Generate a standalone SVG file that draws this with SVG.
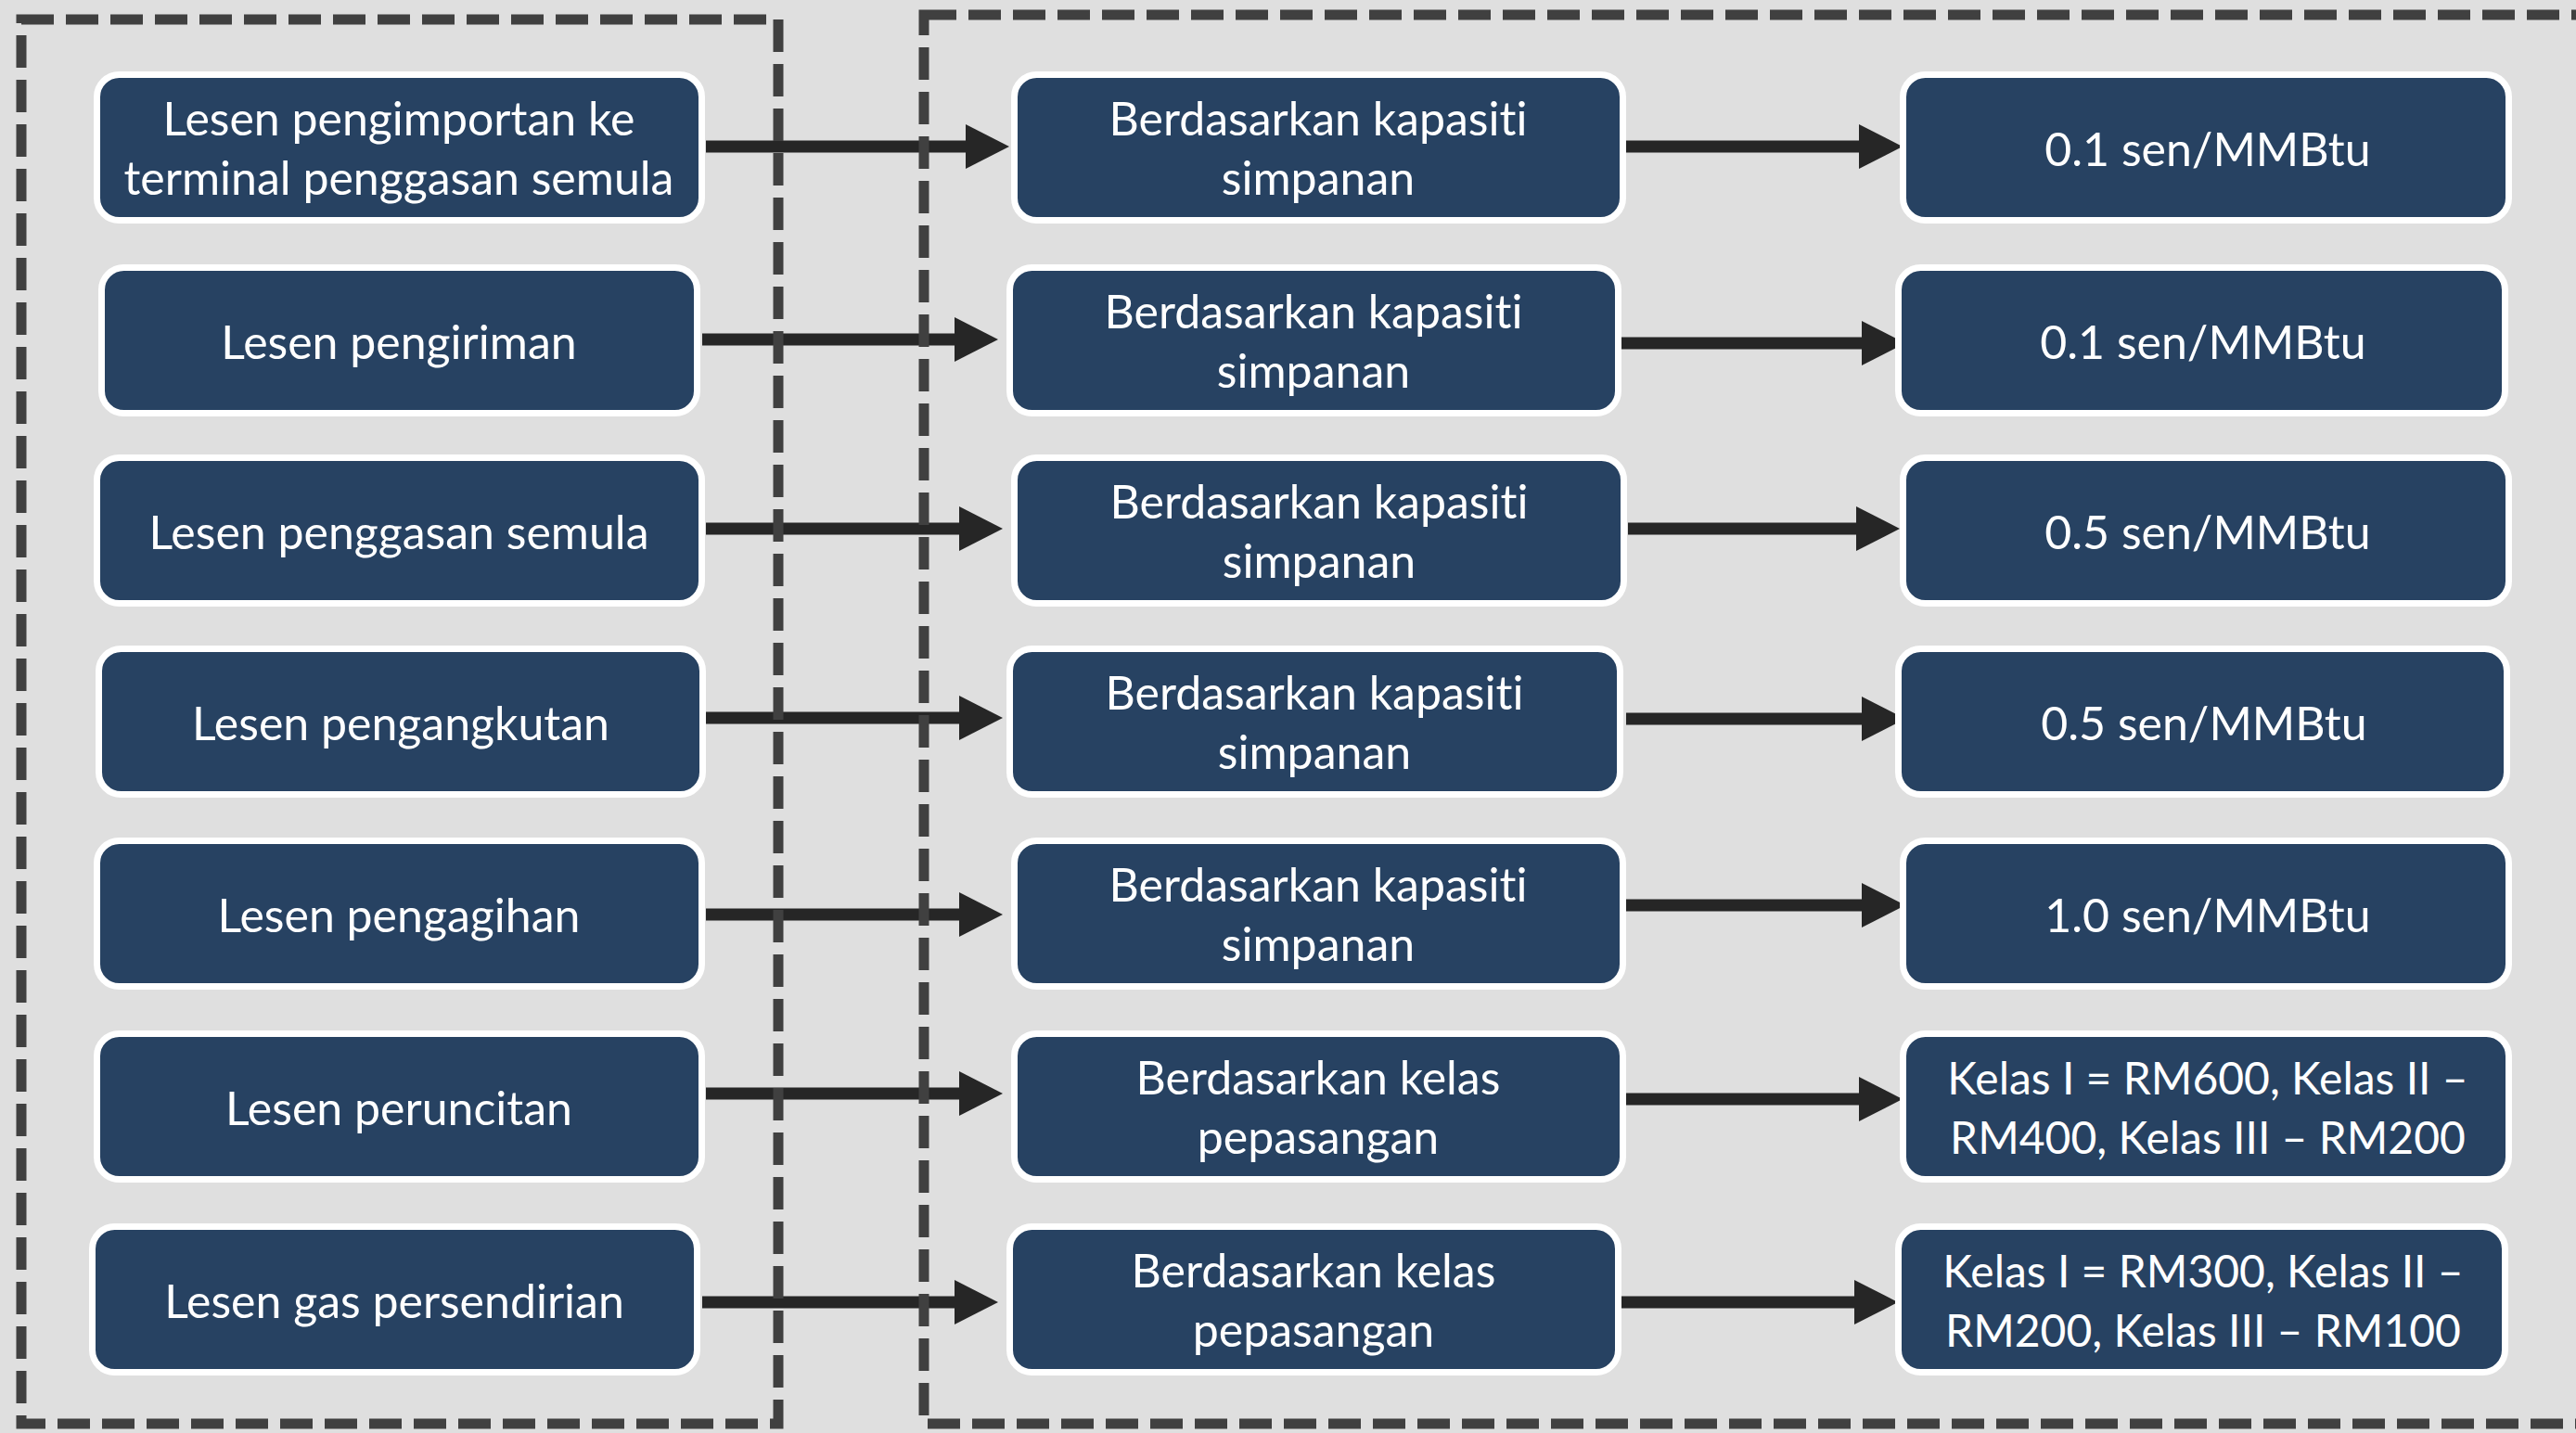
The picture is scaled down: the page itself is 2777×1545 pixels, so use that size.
<svg xmlns="http://www.w3.org/2000/svg" width="2777" height="1545" viewBox="0 0 2777 1545">
<defs>
<style>
.bg{fill:#DFDFDF}
.frame{fill:none;stroke:#404040;stroke-width:11;stroke-dasharray:35 13}
.node rect{fill:#274262;stroke:#FFFFFF;stroke-width:7}
.node text{fill:#FFFFFF;font-family:Lato,"Open Sans","Liberation Sans",sans-serif;font-size:50px;text-anchor:middle;font-variant-ligatures:none;font-feature-settings:"liga" 0,"clig" 0}
.node text.sm{font-size:48px}
.conn line{stroke:#262626;stroke-width:13}
</style>
<marker id="ah" markerUnits="userSpaceOnUse" markerWidth="48" markerHeight="48" refX="7" refY="24" orient="auto">
<path d="M0,0 L47,24 L0,48 Z" fill="#262626"/>
</marker>
</defs>
<rect class="bg" x="0" y="0" width="2777" height="1545"/>
<g id="connectors" class="conn">
<line x1="761" y1="158" x2="1048" y2="158" marker-end="url(#ah)"/>
<line x1="757" y1="366" x2="1036" y2="366" marker-end="url(#ah)"/>
<line x1="761" y1="570" x2="1041" y2="570" marker-end="url(#ah)"/>
<line x1="761" y1="774" x2="1041" y2="774" marker-end="url(#ah)"/>
<line x1="761" y1="986" x2="1041" y2="986" marker-end="url(#ah)"/>
<line x1="761" y1="1179" x2="1041" y2="1179" marker-end="url(#ah)"/>
<line x1="757" y1="1404" x2="1036" y2="1404" marker-end="url(#ah)"/>
<line x1="1753" y1="158" x2="2011" y2="158" marker-end="url(#ah)"/>
<line x1="1748" y1="370" x2="2014" y2="370" marker-end="url(#ah)"/>
<line x1="1755" y1="570" x2="2008" y2="570" marker-end="url(#ah)"/>
<line x1="1753" y1="775" x2="2014" y2="775" marker-end="url(#ah)"/>
<line x1="1753" y1="976" x2="2014" y2="976" marker-end="url(#ah)"/>
<line x1="1753" y1="1185" x2="2011" y2="1185" marker-end="url(#ah)"/>
<line x1="1748" y1="1404" x2="2006" y2="1404" marker-end="url(#ah)"/>
</g>
<g id="frames">
<rect id="frame-left" class="frame" x="23" y="21" width="816" height="1514"/>
<rect id="frame-right" class="frame" x="996" y="16" width="1900" height="1519"/>
</g>
<g id="n1a" class="node"><rect x="104.5" y="80.5" width="652" height="157" rx="24"/><text x="430" y="146">Lesen pengimportan ke</text><text x="430" y="210">terminal penggasan semula</text></g>
<g id="n2a" class="node"><rect x="109.5" y="288.5" width="642" height="157" rx="24"/><text x="430" y="387">Lesen pengiriman</text></g>
<g id="n3a" class="node"><rect x="104.5" y="493.5" width="652" height="157" rx="24"/><text x="430" y="592">Lesen penggasan semula</text></g>
<g id="n4a" class="node"><rect x="106.5" y="699.5" width="651" height="157" rx="24"/><text x="432" y="798">Lesen pengangkutan</text></g>
<g id="n5a" class="node"><rect x="104.5" y="906.5" width="652" height="157" rx="24"/><text x="430" y="1005">Lesen pengagihan</text></g>
<g id="n6a" class="node"><rect x="104.5" y="1114.5" width="652" height="157" rx="24"/><text x="430" y="1213">Lesen peruncitan</text></g>
<g id="n7a" class="node"><rect x="99.5" y="1322.5" width="652" height="157" rx="24"/><text x="425" y="1421">Lesen gas persendirian</text></g>
<g id="n1b" class="node"><rect x="1093.5" y="80.5" width="656" height="157" rx="24"/><text x="1421" y="146">Berdasarkan kapasiti</text><text x="1421" y="210">simpanan</text></g>
<g id="n2b" class="node"><rect x="1088.5" y="288.5" width="656" height="157" rx="24"/><text x="1416" y="354">Berdasarkan kapasiti</text><text x="1416" y="418">simpanan</text></g>
<g id="n3b" class="node"><rect x="1093.5" y="493.5" width="657" height="157" rx="24"/><text x="1422" y="559">Berdasarkan kapasiti</text><text x="1422" y="623">simpanan</text></g>
<g id="n4b" class="node"><rect x="1088.5" y="699.5" width="658" height="157" rx="24"/><text x="1417" y="765">Berdasarkan kapasiti</text><text x="1417" y="829">simpanan</text></g>
<g id="n5b" class="node"><rect x="1093.5" y="906.5" width="656" height="157" rx="24"/><text x="1421" y="972">Berdasarkan kapasiti</text><text x="1421" y="1036">simpanan</text></g>
<g id="n6b" class="node"><rect x="1093.5" y="1114.5" width="656" height="157" rx="24"/><text x="1421" y="1180">Berdasarkan kelas</text><text x="1421" y="1244">pepasangan</text></g>
<g id="n7b" class="node"><rect x="1088.5" y="1322.5" width="656" height="157" rx="24"/><text x="1416" y="1388">Berdasarkan kelas</text><text x="1416" y="1452">pepasangan</text></g>
<g id="n1c" class="node"><rect x="2051.5" y="80.5" width="653" height="157" rx="24"/><text x="2380" y="179">0.1 sen/MMBtu</text></g>
<g id="n2c" class="node"><rect x="2046.5" y="288.5" width="654" height="157" rx="24"/><text x="2375" y="387">0.1 sen/MMBtu</text></g>
<g id="n3c" class="node"><rect x="2051.5" y="493.5" width="653" height="157" rx="24"/><text x="2380" y="592">0.5 sen/MMBtu</text></g>
<g id="n4c" class="node"><rect x="2046.5" y="699.5" width="656" height="157" rx="24"/><text x="2376" y="798">0.5 sen/MMBtu</text></g>
<g id="n5c" class="node"><rect x="2051.5" y="906.5" width="653" height="157" rx="24"/><text x="2380" y="1005">1.0 sen/MMBtu</text></g>
<g id="n6c" class="node"><rect x="2051.5" y="1114.5" width="653" height="157" rx="24"/><text class="sm" x="2380" y="1180">Kelas I = RM600, Kelas II –</text><text class="sm" x="2380" y="1244">RM400, Kelas III – RM200</text></g>
<g id="n7c" class="node"><rect x="2046.5" y="1322.5" width="654" height="157" rx="24"/><text class="sm" x="2375" y="1388">Kelas I = RM300, Kelas II –</text><text class="sm" x="2375" y="1452">RM200, Kelas III – RM100</text></g>
</svg>
